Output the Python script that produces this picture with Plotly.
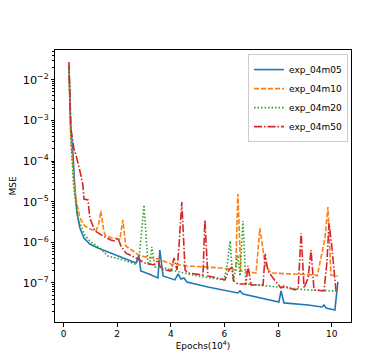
import plotly.graph_objects as go

# epochs are in units of 10^4
epochs_m05 = [0.20, 0.24, 0.27, 0.35, 0.42, 0.50, 0.61, 0.76, 0.98, 1.28, 1.65, 2.10, 2.55, 2.70, 2.81,
              2.88, 3.18, 3.52, 3.59, 3.71, 4.15, 4.27, 4.38, 4.49, 4.60, 5.38, 6.50, 6.58, 6.69, 7.62,
              8.03, 8.11, 8.22, 9.12, 9.64, 9.71, 9.79, 10.12, 10.23]
mse_m05 = [2.17e-2, 3.55e-3, 6.49e-4, 1.57e-4, 2.17e-5, 5.27e-6, 2.25e-6, 1.28e-6, 9.1e-7, 7.26e-7,
           5.78e-7, 4.36e-7, 3.28e-7, 3.10e-7, 4.88e-7, 1.97e-7, 1.66e-7, 1.33e-7, 6.47e-7, 1.49e-7,
           1.19e-7, 1.66e-7, 1.25e-7, 1.33e-7, 1.06e-7, 7.97e-8, 5.68e-8, 6.36e-8, 5.37e-8, 3.82e-8,
           3.41e-8, 6.36e-8, 3.23e-8, 2.88e-8, 2.57e-8, 2.88e-8, 2.43e-8, 2.17e-8, 1.06e-7]

epochs_m10 = [0.20, 0.27, 0.38, 0.46, 0.61, 0.79, 0.98, 1.21, 1.32, 1.39, 1.47, 1.54, 1.80, 2.10, 2.21,
              2.32, 2.59, 2.85, 3.52, 3.71, 4.00, 4.64, 5.87, 6.42, 6.50, 6.61, 7.18, 7.32, 7.44, 7.52,
              7.73, 8.75, 9.38, 9.46, 9.75, 9.86, 9.97, 10.23]
mse_m10 = [2.30e-2, 3.68e-4, 3.82e-5, 1.23e-5, 3.97e-6, 2.52e-6, 2.13e-6, 1.90e-6, 2.99e-6, 5.9e-6,
           2.52e-6, 1.51e-6, 1.28e-6, 1.21e-6, 3.54e-6, 8.1e-7, 6.12e-7, 4.61e-7, 3.89e-7, 3.47e-7,
           2.93e-7, 2.62e-7, 2.34e-7, 2.09e-7, 1.54e-5, 1.97e-7, 1.76e-7, 2.25e-6, 7.26e-7, 2.77e-7,
           1.76e-7, 1.66e-7, 1.57e-7, 1.49e-7, 1.28e-6, 7.4e-6, 1.57e-7, 1.49e-7]

epochs_m20 = [0.20, 0.27, 0.38, 0.53, 0.79, 0.98, 1.35, 1.65, 2.10, 2.66, 2.81, 3.00, 3.15, 3.22, 3.29,
              3.41, 3.52, 4.15, 5.01, 5.98, 6.09, 6.21, 6.32, 6.42, 6.50, 6.58, 6.69, 6.80, 7.25, 8.37,
              9.12, 10.12, 10.23]
mse_m20 = [1.94e-2, 3.68e-4, 2.17e-5, 3.97e-6, 1.51e-6, 1.08e-6, 7.26e-7, 4.61e-7, 3.89e-7, 2.93e-7,
           3.68e-7, 8.3e-6, 2.77e-7, 3.10e-7, 7.7e-7, 2.47e-7, 2.62e-7, 1.97e-7, 1.49e-7, 1.19e-7,
           2.34e-7, 1.08e-6, 1.12e-7, 2.09e-7, 4.88e-7, 1.49e-7, 3.35e-6, 9.45e-8, 8.93e-8, 7.53e-8,
           6.73e-8, 6.36e-8, 6.01e-8]

epochs_m50 = [0.20, 0.27, 0.38, 0.46, 0.61, 0.72, 0.76, 0.91, 0.98, 1.17, 1.47, 1.76, 1.91, 2.03, 2.14,
              2.32, 2.77, 3.03, 3.37, 3.52, 3.63, 4.00, 4.12, 4.23, 4.30, 4.41, 4.53, 4.64, 5.20, 5.27,
              5.38, 6.02, 6.17, 6.28, 6.35, 6.50, 6.80, 6.88, 6.99, 7.44, 7.52, 7.62, 7.81, 8.00, 8.11,
              8.22, 8.63, 8.75, 8.86, 8.97, 9.12, 9.23, 9.34, 9.71, 9.82, 9.90, 10.01, 10.16]
mse_m50 = [2.72e-2, 6.49e-4, 2.09e-4, 1.41e-4, 5.68e-5, 2.57e-5, 1.16e-5, 1.10e-5, 3.97e-6, 1.90e-6,
           1.43e-6, 1.14e-6, 1.08e-6, 1.28e-6, 8.1e-7, 5.47e-7, 3.89e-7, 3.10e-7, 2.77e-7, 3.68e-7,
           2.21e-7, 1.97e-7, 4.12e-7, 2.09e-7, 7.26e-7, 9.8e-6, 2.09e-7, 1.76e-7, 1.57e-7, 3.54e-6,
           1.49e-7, 1.19e-7, 2.09e-7, 2.47e-7, 1.12e-7, 9.45e-8, 9.45e-8, 2.62e-7, 8.93e-8, 8.93e-8,
           5.17e-7, 1.97e-7, 1.33e-7, 8.93e-8, 7.53e-8, 8.43e-8, 6.73e-8, 7.53e-8, 1.70e-6, 7.53e-8,
           1.33e-7, 6.47e-7, 6.73e-8, 6.36e-8, 3.10e-7, 2.99e-6, 7.26e-7, 6.36e-8]

SERIES = [
    ("exp_04m05", epochs_m05, mse_m05, "#1f77b4", "solid"),
    ("exp_04m10", epochs_m10, mse_m10, "#ff7f0e", "5px,2px"),
    ("exp_04m20", epochs_m20, mse_m20, "#2ca02c", "1.5px,2px"),
    ("exp_04m50", epochs_m50, mse_m50, "#d62728", "8px,2px,1.5px,2px"),
]

FONT = "DejaVu Sans"

fig = go.Figure()
for name, xs, ys, color, dash in SERIES:
    fig.add_trace(
        go.Scatter(x=xs, y=ys, name=name, mode="lines",
                   line=dict(color=color, width=1.6, dash=dash))
    )

axis_common = dict(
    showgrid=False, zeroline=False, showline=True, linecolor="black", linewidth=1,
    mirror=True, ticks="outside", ticklen=3.5, tickwidth=0.8, tickcolor="black",
    tickfont=dict(family=FONT, size=9, color="black"), automargin=False,
)

fig.update_layout(
    width=381, height=354,
    margin=dict(l=47, r=38, t=42, b=40),
    paper_bgcolor="white", plot_bgcolor="white",
    font=dict(family=FONT, size=9, color="black"),
    xaxis=dict(range=[-0.32, 10.72], tickvals=[0, 2, 4, 6, 8, 10],
               title=dict(text="Epochs(10<sup>4</sup>)", font=dict(family=FONT, size=9), standoff=3),
               **axis_common),
    yaxis=dict(type="log", range=[-7.96, -1.27], dtick=1, exponentformat="power",
               minor=dict(ticks="outside", ticklen=2, tickwidth=0.6, tickcolor="black", dtick="D1"),
               title=dict(text="MSE", font=dict(family=FONT, size=9), standoff=4),
               **axis_common),
    legend=dict(x=0.99, y=0.985, xanchor="right", yanchor="top",
                bordercolor="#cccccc", borderwidth=1, bgcolor="rgba(255,255,255,0.8)",
                font=dict(family=FONT, size=9), tracegroupgap=0, itemwidth=30),
    showlegend=True,
)

fig.write_html("out.html")
